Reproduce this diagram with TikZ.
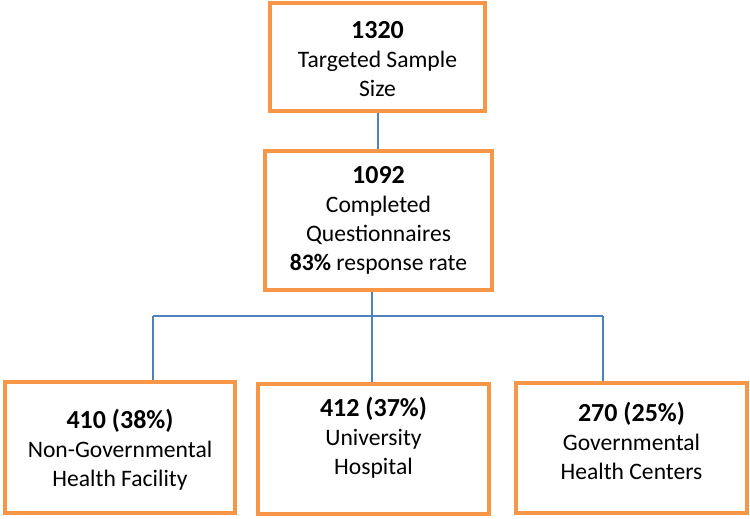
\documentclass[tikz,border=0pt]{standalone}
\usepackage{fontspec}
\setmainfont{Carlito}
\usetikzlibrary{positioning}

\newcommand{\bignum}[1]{{\fontsize{13}{14.5}\selectfont\textbf{#1}}}

\begin{document}
\begin{tikzpicture}[
    x=0.5pt, y=-0.5pt,
    every node/.style={font=\fontsize{11.8}{14.5}\selectfont},
    box/.style={
        draw=boxorange,
        line width=2.2pt,
        fill=white,
        inner sep=0pt,
    },
    caption/.style={align=center, inner sep=0pt},
    link/.style={draw=linkblue, line width=1pt},
]

% Colors matching the original
\definecolor{boxorange}{HTML}{F79646}
\definecolor{linkblue}{HTML}{4F81BD}

% Unit: one pixel of the original
\def\px{0.5pt}

\useasboundingbox[fill=white] (0,0) rectangle (750,519);

% Boxes
\node[box, minimum width=215*\px, minimum height=108*\px] (target) at (377.5,57) {};
\node[box, minimum width=227*\px, minimum height=139*\px] (completed) at (378.5,220.5) {};
\node[box, minimum width=230*\px, minimum height=131*\px] (nongov) at (120,447.5) {};
\node[box, minimum width=231*\px, minimum height=130*\px] (univ) at (373.5,449) {};
\node[box, minimum width=231*\px, minimum height=130*\px] (gov) at (631.5,448) {};

% Box text
\node[caption] (targettxt) at ([yshift=-2*\px]target.center) {\bignum{1320}\\Targeted Sample\\Size};
\node[caption] (completedtxt) at (completed.center) {\bignum{1092}\\Completed\\Questionnaires\\\textbf{83\%} response rate};
\node[caption] (nongovtxt) at ([yshift=-2*\px]nongov.center) {\bignum{410 (38\%)}\\Non-Governmental\\Health Facility};
\node[caption] (univtxt) at ([yshift=11*\px]univ.center) {\bignum{412 (37\%)}\\University\\Hospital};
\node[caption] (govtxt) at ([yshift=7*\px]gov.center) {\bignum{270 (25\%)}\\Governmental\\Health Centers};

% Connectors
\coordinate (hub) at (372,316);
\coordinate (barL) at (153,316);
\coordinate (barR) at (603,316);

\draw[link] (target.south) -- (target.south |- completed.north);
\draw[link] (hub |- completed.south) -- (hub |- univ.north);
\draw[link] (barL) -- (barR);
\draw[link] (barL) -- (barL |- nongov.north);
\draw[link] (barR) -- (barR |- gov.north);

\end{tikzpicture}
\end{document}
